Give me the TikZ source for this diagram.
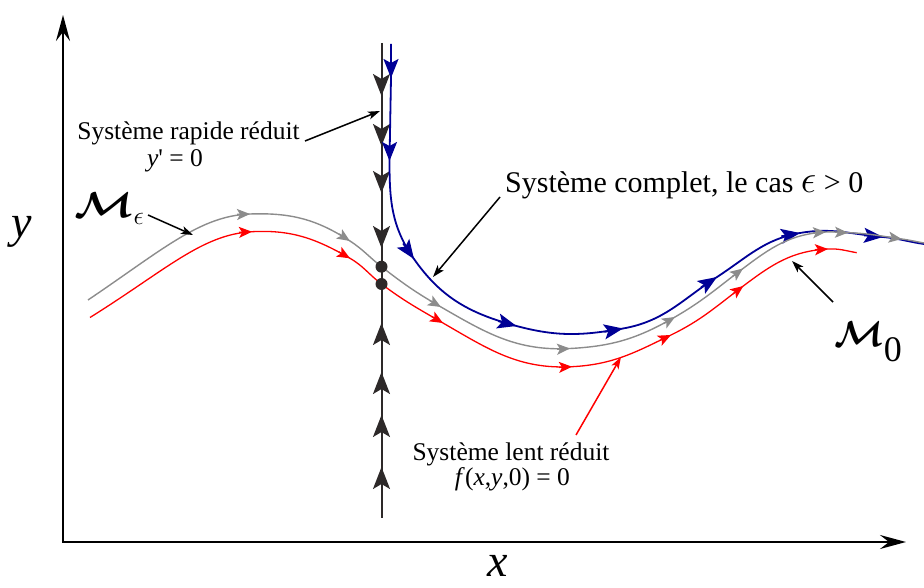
\RequirePackage{fix-cm}
\documentclass[tikz,border=0pt]{standalone}
\usepackage{fontspec}
\setmainfont{Liberation Serif}
\usetikzlibrary{arrows.meta,calc}
\definecolor{myblue}{RGB}{0,0,150}
\definecolor{mygray}{RGB}{140,140,140}
\definecolor{myblack}{RGB}{45,41,41}
\definecolor{myred}{RGB}{255,0,0}
% arrow tip at point #2 pointing in canvas direction #3, drawn with style #1 of tip length #4
\newcommand\tipat[4]{\draw[#1] ($(#2)+(#3+180:#4)$) -- (#2);}
\begin{document}
\begin{tikzpicture}[x=1pt,y=-1pt,
  axis/.style={line width=2pt,black,-{Stealth[length=26pt,width=14pt,inset=9pt]}},
  fastline/.style={line width=2pt,myblack},
  fasttip/.style={myblack,line width=2pt,-{Stealth[length=22pt,width=17pt,inset=5pt]}},
  bluel/.style={line width=1.8pt,myblue},
  bluetip/.style={line width=1.8pt,myblue,-{Stealth[length=19pt,width=15pt,inset=4pt]}},
  grayl/.style={line width=1.4pt,mygray},
  graytip/.style={line width=1.4pt,mygray,-{Stealth[length=13pt,width=11pt,inset=3pt]}},
  redl/.style={line width=1.3pt,myred},
  redtip/.style={line width=1.3pt,myred,-{Stealth[length=13pt,width=11pt,inset=3pt]}},
  pointer/.style={line width=1.5pt,black,-{Stealth[length=12pt,width=8pt,inset=3pt]}},
  rpointer/.style={line width=1.5pt,myred,-{Stealth[length=12pt,width=8pt,inset=3pt]}},
  lbl/.style={font=\fontsize{25.5}{30}\selectfont,inner sep=0pt,anchor=base},
  biglbl/.style={font=\fontsize{30}{34}\selectfont,inner sep=0pt,anchor=base west},
  axlbl/.style={font=\fontsize{46}{50}\selectfont\itshape,inner sep=0pt,anchor=base},
  mlbl/.style={font=\fontsize{36}{40}\selectfont,inner sep=0pt,anchor=base west},
  dot/.style={circle,fill=myblack,inner sep=0pt,minimum size=12pt}
]
\useasboundingbox (0,0) rectangle (924,588);

% axes
\coordinate (O) at (63,542);
\coordinate (Ytop) at (63,15);
\coordinate (Xend) at (906,542);
\draw[axis] (O) -- (Ytop);
\draw[axis] ([xshift=-1pt]O) -- (Xend);
\node[axlbl] (ylab) at (22,238) {y};
\node[axlbl] (xlab) at (498,576) {x};

% fast (vertical) line
\coordinate (Vtop) at (381.5,43);
\coordinate (Vbot) at (381.5,518);
\draw[fastline] (Vtop) -- (Vbot);
\foreach \yy in {96,146,193,248}{
  \draw[fasttip] (381.5,\yy-22) -- (381.5,\yy);
}
\foreach \yy in {323,372,415,467}{
  \draw[fasttip] (381.5,\yy+22) -- (381.5,\yy);
}

% gray curve (M_eps)
\coordinate (G0) at (88,300);
\coordinate (G1) at (250,214);
\coordinate (G2) at (350,241);
\coordinate (Gd) at (381.5,266.7);
\coordinate (G3) at (441,307);
\coordinate (G4) at (570,348.5);
\coordinate (G5) at (675,317);
\coordinate (G6) at (743,268.5);
\coordinate (G7) at (826,232);
\coordinate (G8) at (848,232.7);
\coordinate (G9) at (901.7,239);
\coordinate (G10) at (924,243);

% red curve (M_0)
\coordinate (R0) at (90,317.5);
\coordinate (R1) at (252,231.7);
\coordinate (R2) at (350,258.3);
\coordinate (Rd) at (381.5,284);
\coordinate (R3) at (443,323);
\coordinate (R4) at (572,366.7);
\coordinate (R5) at (671,335);
\coordinate (R6) at (743.3,286);
\coordinate (R7) at (828,249);
\coordinate (R8) at (856.7,252.7);

% blue curve
\coordinate (B0) at (391,44);
\coordinate (B1) at (391,78);
\coordinate (B2) at (389.5,161);
\coordinate (B3) at (414,259);
\coordinate (B4) at (516.5,326);
\coordinate (B5) at (623,328.5);
\coordinate (B6) at (717,277);
\coordinate (B7) at (800,233);
\coordinate (B8) at (883,237);
\coordinate (B9) at (924,244);

\draw[bluel,line join=round] (B0) -- (B1) -- (B2) to[out=-90,in=125] (B3)
  to[out=-55,in=165] (B4) to[out=-15,in=190] (B5) to[out=10,in=213] (B6)
  to[out=33,in=190] (B7) to[out=10,in=175] (B8) to[out=-5,in=172] (B9);
\tipat{bluetip}{B1}{-90}{19pt}
\tipat{bluetip}{B2}{-90}{19pt}
\tipat{bluetip}{B3}{-55}{19pt}
\tipat{bluetip}{B4}{-15}{19pt}
\tipat{bluetip}{B5}{10}{19pt}
\tipat{bluetip}{B6}{33}{19pt}
\tipat{bluetip}{B7}{10}{19pt}
\tipat{bluetip}{B8}{-5}{19pt}

\draw[grayl] (G0) to[out=34,in=182,out distance=90pt,in distance=50pt] (G1)
  to[out=2,in=147] (G2) to[out=-33,in=142] (Gd) to[out=-38,in=150] (G3)
  to[out=-30,in=183] (G4) to[out=3,in=210] (G5) to[out=30,in=217] (G6)
  to[out=37,in=183] (G7) to[out=3,in=178] (G8) to[out=-2,in=172] (G9)
  to[out=-8,in=170] (G10);
\tipat{graytip}{G1}{2}{13pt}
\tipat{graytip}{G2}{-33}{13pt}
\tipat{graytip}{G3}{-30}{13pt}
\tipat{graytip}{G4}{3}{13pt}
\tipat{graytip}{G5}{30}{13pt}
\tipat{graytip}{G6}{37}{13pt}
\tipat{graytip}{G7}{3}{13pt}
\tipat{graytip}{G8}{-2}{13pt}
\tipat{graytip}{G9}{-8}{13pt}

\draw[redl] (R0) to[out=32,in=183,out distance=90pt,in distance=50pt] (R1)
  to[out=3,in=150] (R2) to[out=-30,in=143] (Rd) to[out=-37,in=150] (R3)
  to[out=-30,in=183] (R4) to[out=3,in=206] (R5) to[out=26,in=217] (R6)
  to[out=37,in=183] (R7) to[out=3,in=170] (R8);
\tipat{redtip}{R1}{3}{13pt}
\tipat{redtip}{R2}{-30}{13pt}
\tipat{redtip}{R3}{-30}{13pt}
\tipat{redtip}{R4}{3}{13pt}
\tipat{redtip}{R5}{26}{13pt}
\tipat{redtip}{R6}{37}{13pt}
\tipat{redtip}{R7}{3}{13pt}

% equilibrium dots
\node[dot] (d1) at (Gd) {};
\node[dot] (d2) at (Rd) {};

% labels
\node[lbl] (fastA) at (188.5,140) {Système rapide réduit};
\node[lbl] (fastB) at (175,166.5) {\textit{y}\textquotesingle{} = 0};
\node[biglbl] (full) at (505,193) {Système complet, le cas \scalebox{1.3}{$\epsilon$} > 0};
\node[lbl] (slowA) at (511,460) {Système lent réduit};
\node[lbl] (slowB) at (512.5,485) {\textit{f}(\textit{x},\textit{y},0) = 0};
\node[mlbl] (Meps) at (74,218) {\scalebox{1.2}[1]{\boldmath$\mathcal{M}$}\raisebox{-7pt}{\fontsize{26}{28}\selectfont$\epsilon$}};
\node[mlbl] (Mzero) at (834,346.7) {{\boldmath$\mathcal{M}$}\raisebox{-15pt}{0}};

% pointers
\coordinate (p1s) at (305,141);
\coordinate (p1e) at (380,111);
\coordinate (p2s) at (148,215);
\coordinate (p2e) at (193,235);
\coordinate (p3s) at (500,197);
\coordinate (p3e) at (433,277);
\coordinate (p4s) at (833,302);
\coordinate (p4e) at (792,261);
\coordinate (p5s) at (576,435);
\coordinate (p5e) at (621,357);
\draw[pointer] (p1s) -- (p1e);
\draw[pointer] (p2s) -- (p2e);
\draw[pointer] (p3s) -- (p3e);
\draw[pointer] (p4s) -- (p4e);
\draw[rpointer] (p5s) -- (p5e);
\end{tikzpicture}
\end{document}
